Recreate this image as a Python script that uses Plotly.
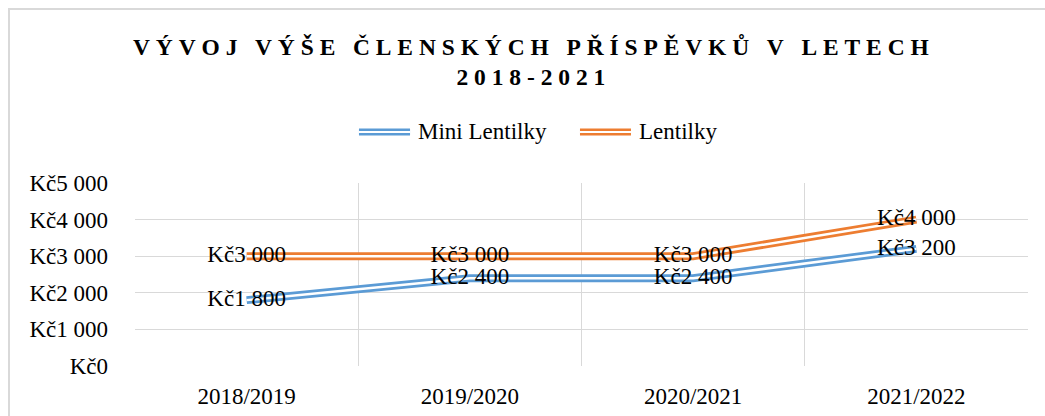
import plotly.graph_objects as go

years = ['2018/2019', '2019/2020', '2020/2021', '2021/2022']
mini = [1800, 2400, 2400, 3200]
lentilky = [3000, 3000, 3000, 4000]

blue = '#5B9BD5'
orange = '#ED7D31'
serif = 'Liberation Serif, Times New Roman, serif'


def spaced(s):
    # roztazeni pismen jako v Excelu
    return '\u00a0'.join(s).replace('\u00a0 \u00a0', '\u00a0\u00a0\u00a0')


fig = go.Figure()
for name, vals, col in [('Mini Lentilky', mini, blue), ('Lentilky', lentilky, orange)]:
    fig.add_trace(go.Scatter(x=years, y=vals, mode='lines', name=name,
                             line=dict(color=col, width=8), showlegend=False))
    fig.add_trace(go.Scatter(x=years, y=vals, mode='lines',
                             line=dict(color='white', width=2.5), showlegend=False,
                             hoverinfo='skip'))
for vals in [mini, lentilky]:
    fig.add_trace(go.Scatter(x=years, y=vals, mode='text',
                             texttemplate='Kč%{y:,}', textposition='middle center',
                             textfont=dict(family=serif, size=23, color='black'),
                             showlegend=False))

# legenda s dvojitou carou
legend = [('Mini Lentilky', blue, 0.2508, 0.308, 0.3147),
          ('Lentilky', orange, 0.4983, 0.5554, 0.5622)]
shapes = []
annotations = []
for name, col, x0, x1, tx in legend:
    shapes.append(dict(type='line', xref='paper', yref='paper', x0=x0, x1=x1,
                       y0=1.2787, y1=1.2787, line=dict(color=col, width=7)))
    shapes.append(dict(type='line', xref='paper', yref='paper', x0=x0, x1=x1,
                       y0=1.2787, y1=1.2787, line=dict(color='white', width=2)))
    annotations.append(dict(text=name, xref='paper', yref='paper', x=tx, y=1.2787,
                            xanchor='left', yanchor='middle', showarrow=False,
                            font=dict(family=serif, size=23, color='black')))

# ramecek grafu
shapes.append(dict(type='rect', xref='paper', yref='paper', x0=-0.1411, x1=1.05,
                   y0=-0.35, y1=1.951, line=dict(color='#D9D9D9', width=2),
                   layer='below'))

fig.update_layout(
    width=1045, height=416,
    margin=dict(l=135, r=17, t=183, b=50, autoexpand=False),
    paper_bgcolor='white', plot_bgcolor='white',
    separators=', ',
    title=dict(text=spaced('VÝVOJ VÝŠE ČLENSKÝCH PŘÍSPĚVKŮ V LETECH') + '<br>' + spaced('2018-2021'),
               xref='container', yref='container', x=0.508, xanchor='center',
               y=0.868, yanchor='middle',
               font=dict(family=serif, size=23.5, color='black', weight='bold')),
    shapes=shapes,
    annotations=annotations,
    showlegend=False,
)
fig.update_xaxes(type='category', tickson='boundaries', showgrid=True,
                 gridcolor='#D9D9D9', gridwidth=1, ticks='', showline=False,
                 range=[-0.5, 3.5], ticklabelstandoff=14, automargin=False,
                 tickfont=dict(family=serif, size=23, color='black'))
fig.update_yaxes(range=[0, 5000], dtick=1000, tickformat=',d', tickprefix='Kč',
                 showgrid=True, gridcolor='#D9D9D9', gridwidth=1, zeroline=False,
                 showline=False, ticks='', ticklabelstandoff=26, automargin=False,
                 tickfont=dict(family=serif, size=23, color='black'))

fig.write_html('out.html', post_script="document.body.style.margin='0';",
               config={'displayModeBar': False})
